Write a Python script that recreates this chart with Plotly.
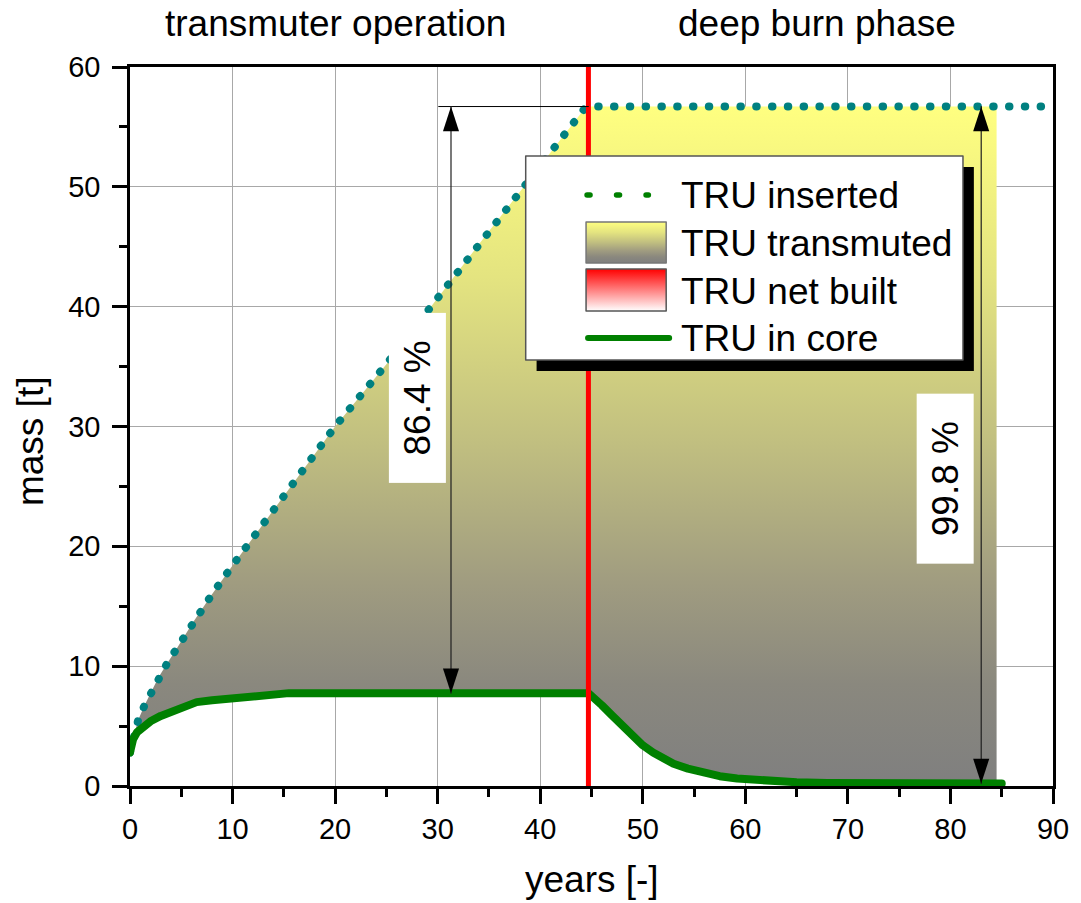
import plotly.graph_objects as go

# ---------------- data ----------------
years_ins = [0, 0.35, 0.8, 1.4, 2.1, 2.8, 3.6, 4.5, 6.1, 8, 10, 15, 20, 25, 30.7, 35, 38.4, 41.4, 44.3, 44.7, 90]
tru_inserted = [2.8, 4.1, 5.5, 6.7, 7.9, 9.1, 10.2, 11.4, 13.6, 16.0, 18.4, 24.2, 30.0, 35.2, 41.5, 46.3, 50.0, 53.3, 56.5, 56.7, 56.7]

years_core = [0, 0.3, 0.7, 1.2, 2, 3, 4.5, 6.5, 8, 10, 12.5, 15.5, 44.7, 45.2, 46.0, 47.0, 48.0, 49.0, 50.0,
              51.0, 52.0, 53.0, 54.4, 56, 57.5, 59.2, 61, 63, 65, 68, 72, 78, 84.5, 85]
tru_core = [2.8, 3.9, 4.5, 4.9, 5.4, 5.85, 6.4, 7.0, 7.15, 7.3, 7.5, 7.75, 7.75, 7.4, 6.75, 5.9, 5.0, 4.15, 3.4,
            2.8, 2.28, 1.85, 1.45, 1.08, 0.82, 0.62, 0.48, 0.38, 0.31, 0.25, 0.22, 0.2, 0.2, 0.2]

phase_end = 44.7        # end of transmuter operation
burn_end = 84.5         # end of deep burn phase
plateau = tru_inserted[-1]

arrow1_x = 31.3
arrow2_x = 83.0
ref_line_x = [30.1, phase_end]
pct_transmuter = "86.4 %"
pct_deepburn = "99.8 %"

x_ticks = [0, 10, 20, 30, 40, 50, 60, 70, 80, 90]
y_ticks = [0, 10, 20, 30, 40, 50, 60]

phase_labels = ["transmuter operation", "deep burn phase"]
legend_labels = ["TRU inserted", "TRU transmuted", "TRU net built", "TRU in core"]

# ---------------- styles ----------------
FONT = "Liberation Sans, Arial, sans-serif"
TEAL = "#008080"
GREEN = "#008000"
RED = "#ff0000"
grad_transmuted = [[0.0, "rgb(127,127,127)"], [0.15, "rgb(138,136,126)"], [0.3, "rgb(160,156,128)"],
                   [0.5, "rgb(192,190,128)"], [0.75, "rgb(228,228,128)"], [1.0, "rgb(255,255,128)"]]
grad_netbuilt = [[0.0, "rgb(255,255,255)"], [1.0, "rgb(255,0,0)"]]

# plot area in pixels
W, H = 1081, 903
L, R, T, B = 130, 1063, 67, 786


def px(xp):
    return (xp - L) / (R - L)


def py(yp):
    return (B - yp) / (B - T)


fig = go.Figure()

# transmuted area polygon (upper: inserted, lower: in-core reversed)
up_x = [x for x in years_ins if x <= phase_end] + [burn_end]
up_y = [y for x, y in zip(years_ins, tru_inserted) if x <= phase_end] + [plateau]
lo = [(x, y) for x, y in zip(years_core, tru_core) if x <= burn_end][::-1]
poly_x = up_x + [p[0] for p in lo]
poly_y = up_y + [p[1] for p in lo]
fig.add_trace(go.Scatter(x=poly_x, y=poly_y, mode="none", fill="toself",
                         fillgradient=dict(type="vertical", colorscale=grad_transmuted,
                                           start=0, stop=plateau),
                         hoverinfo="skip", showlegend=False))

# TRU inserted (dotted)
fig.add_trace(go.Scatter(x=years_ins, y=tru_inserted, mode="lines",
                         line=dict(color=TEAL, width=8, dash="0.5px,15.3px"),
                         showlegend=False))
# TRU in core
fig.add_trace(go.Scatter(x=years_core, y=tru_core, mode="lines",
                         line=dict(color=GREEN, width=8), showlegend=False))
# phase boundary
fig.add_trace(go.Scatter(x=[phase_end, phase_end], y=[y_ticks[0], y_ticks[-1]], mode="lines",
                         line=dict(color=RED, width=5), showlegend=False))
# reference line at plateau
fig.add_trace(go.Scatter(x=ref_line_x, y=[plateau, plateau], mode="lines",
                         line=dict(color="black", width=1), showlegend=False))
# double arrows
core_flat = tru_core[years_core.index(phase_end)]
core_end = tru_core[-1]
for ax_x, y_lo in [(arrow1_x, core_flat), (arrow2_x, core_end)]:
    fig.add_trace(go.Scatter(x=[ax_x, ax_x], y=[y_lo, plateau], mode="lines+markers",
                             line=dict(color="#202020", width=1.2),
                             marker=dict(symbol="arrow", size=26, angle=[180, 0], color="black",
                                         line=dict(width=0)),
                             showlegend=False))

# ---------------- custom legend (pixel-coordinate overlay axes) ----------------
def rect(x0, x1, y0, y1):
    return [x0, x1, x1, x0, x0], [y0, y0, y1, y1, y0]


sx, sy = rect(541, 983, 167, 371)
fig.add_trace(go.Scatter(x=sx, y=sy, xaxis="x2", yaxis="y2", mode="none", fill="toself",
                         fillcolor="black", showlegend=False, hoverinfo="skip"))
bx, by = rect(530, 972, 156, 360)
fig.add_trace(go.Scatter(x=bx, y=by, xaxis="x2", yaxis="y2", mode="lines", fill="toself",
                         fillcolor="white", line=dict(color="#555555", width=1.5),
                         showlegend=False, hoverinfo="skip"))
s1x, s1y = rect(591, 672, 222, 263)
fig.add_trace(go.Scatter(x=s1x, y=s1y, xaxis="x2", yaxis="y2", mode="lines", fill="toself",
                         fillgradient=dict(type="vertical", colorscale=grad_transmuted,
                                           start=263, stop=222),
                         line=dict(color="#777777", width=1.5), showlegend=False, hoverinfo="skip"))
s2x, s2y = rect(591, 672, 269, 311)
fig.add_trace(go.Scatter(x=s2x, y=s2y, xaxis="x2", yaxis="y2", mode="lines", fill="toself",
                         fillgradient=dict(type="vertical", colorscale=grad_netbuilt,
                                           start=311, stop=269),
                         line=dict(color="#555555", width=1.5), showlegend=False, hoverinfo="skip"))
fig.add_trace(go.Scatter(x=[592, 654], y=[195, 195], xaxis="x2", yaxis="y2", mode="lines",
                         line=dict(color=GREEN, width=5.5, dash="3px,26.5px"),
                         showlegend=False, hoverinfo="skip"))
fig.add_trace(go.Scatter(x=[593, 675], y=[338, 338], xaxis="x2", yaxis="y2", mode="lines",
                         line=dict(color=GREEN, width=6), showlegend=False, hoverinfo="skip"))

ann = []
for lab, yy in zip(legend_labels, [195.5, 243.3, 291.7, 338.3]):
    ann.append(dict(x=px(685), y=py(yy), xref="paper", yref="paper", text=lab, showarrow=False,
                    xanchor="left", yanchor="middle", font=dict(size=37, color="black")))
# phase titles
for lab, xx in zip(phase_labels, [338, 824.5]):
    ann.append(dict(x=px(xx), y=py(24), xref="paper", yref="paper", text=lab, showarrow=False,
                    xanchor="center", yanchor="middle", font=dict(size=37, color="black")))
# percentage boxes
for lab, xx, yy in [(pct_transmuter, 420, 397.5), (pct_deepburn, 954, 479)]:
    ann.append(dict(x=px(xx), y=py(yy), xref="paper", yref="paper", text=lab, showarrow=False,
                    textangle=-90, width=169, height=56, bgcolor="white", borderpad=0,
                    xanchor="center", yanchor="middle", font=dict(size=37, color="black")))
# axis titles
ann.append(dict(x=px(596.5), y=py(879), xref="paper", yref="paper", text="years [-]", showarrow=False,
                xanchor="center", yanchor="middle", font=dict(size=37, color="black")))
ann.append(dict(x=px(29), y=py(441), xref="paper", yref="paper", text="mass [t]", showarrow=False,
                textangle=-90, xanchor="center", yanchor="middle", font=dict(size=37, color="black")))

axis_common = dict(showline=True, linecolor="black", linewidth=2.5, mirror=True,
                   ticks="outside", ticklen=15, tickwidth=2.5, tickcolor="black",
                   showgrid=True, gridcolor="#a8a8a8", gridwidth=1, zeroline=False,
                   tickfont=dict(size=29, color="black"),
                   minor=dict(ticks="outside", ticklen=8, tickwidth=2.5, tickcolor="black",
                              dtick=5, showgrid=False))

fig.update_layout(
    width=W, height=H, autosize=False,
    margin=dict(l=L, r=W - R, t=T, b=H - B, pad=0),
    paper_bgcolor="white", plot_bgcolor="white",
    font=dict(family=FONT, color="black"),
    showlegend=False,
    xaxis=dict(range=[x_ticks[0], x_ticks[-1]], tickvals=x_ticks, **axis_common),
    yaxis=dict(range=[y_ticks[0], y_ticks[-1]], tickvals=y_ticks, ticklabelstandoff=6, **axis_common),
    xaxis2=dict(overlaying="x", anchor="y2", range=[L, R], visible=False),
    yaxis2=dict(overlaying="y", anchor="x2", range=[B, T], visible=False),
    annotations=ann,
)

post_js = """
document.documentElement.style.margin = '0';
document.documentElement.style.overflow = 'hidden';
document.body.style.margin = '0';
document.body.style.padding = '0';
document.body.style.overflow = 'hidden';
var gd = document.getElementById('{plot_id}');
function roundCaps(){
  gd.querySelectorAll('path.js-line').forEach(function(p){
    p.style.strokeLinecap = 'round';
    p.style.strokeLinejoin = 'round';
  });
}
roundCaps();
gd.on('plotly_afterplot', roundCaps);
Plotly.relayout(gd, {width: %d, height: %d, autosize: false}).then(roundCaps);
""" % (W, H)
fig.write_html("out.html", post_script=post_js,
               config={"displayModeBar": False, "responsive": False})
